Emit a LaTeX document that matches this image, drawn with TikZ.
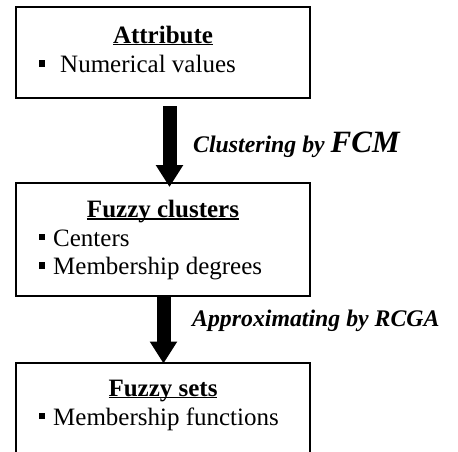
\documentclass[tikz,border=0pt]{standalone}
\usepackage{fontspec}
\setmainfont{Liberation Serif}
\usetikzlibrary{arrows.meta,calc}
\newcommand\myul[1]{\setbox0\hbox{#1}\rlap{\rule[-2.4pt]{\wd0}{1.6pt}}\box0}
\newcommand\mybul[1]{\makebox[#1][l]{\rule[5.8pt]{6.5pt}{6.5pt}}}
\begin{document}
\begin{tikzpicture}[x=1pt,y=-1pt,
  boxstyle/.style={draw=black,line width=2pt,rectangle,inner sep=0pt,minimum width=294pt},
  titlestyle/.style={anchor=base,inner sep=0pt,font=\fontsize{25pt}{29pt}\selectfont\bfseries},
  itemstyle/.style={anchor=base west,inner sep=0pt,font=\fontsize{25pt}{29pt}\selectfont},
  bigarrow/.style={line width=14pt,-{Triangle[length=22pt,width=26pt]}},
  labelstyle/.style={anchor=base west,inner sep=0pt,font=\fontsize{23.8pt}{27pt}\selectfont\bfseries\itshape}]
\clip (0,0) rectangle (458,451);
\path[use as bounding box] (0,0) rectangle (458,451);
% boxes
\node[boxstyle,minimum height=91pt] (b1) at (163,52.5) {};
\node[boxstyle,minimum height=113pt] (b2) at (163,239) {};
\node[boxstyle,minimum height=120pt] (b3) at (163,423) {};
% texts
\node[titlestyle] (t1) at (163,43) {\myul{Attribute}};
\node[itemstyle] (i1) at (38.5,72.7) {\mybul{21.5pt}Numerical values};
\node[titlestyle] (t2) at (163,217.3) {\myul{Fuzzy clusters}};
\node[itemstyle] (i2) at (38.5,246) {\mybul{14.5pt}Centers};
\node[itemstyle] (i3) at (38.5,274.3) {\mybul{14.5pt}Membership degrees};
\node[titlestyle] (t3) at (163,396) {\myul{Fuzzy sets}};
\node[itemstyle] (i4) at (38.5,425) {\mybul{14.5pt}Membership functions};
% arrows
\draw[bigarrow] ($(b1.south)+(6.5,7)$) -- ($(b2.north)+(6.5,5.5)$);
\draw[bigarrow] ($(b2.south)+(0.5,-1)$) -- ($(b3.north)+(0.5,1.5)$);
% labels
\node[labelstyle] (l1) at (193,152.7) {Clustering by {\fontsize{31pt}{33pt}\selectfont FCM}};
\node[labelstyle] (l2) at (192,326.7) {Approximating by RCGA};
\end{tikzpicture}
\end{document}
